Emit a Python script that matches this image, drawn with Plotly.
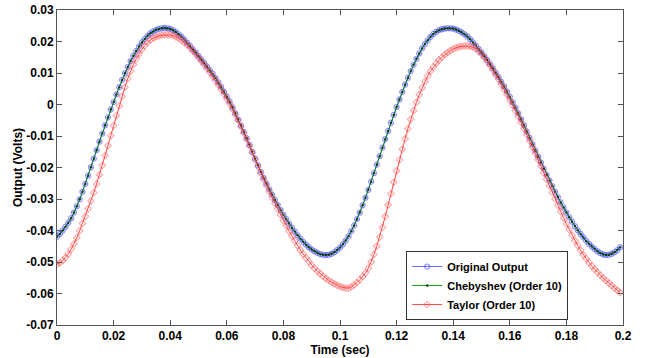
import plotly.graph_objects as go

# Sample times (s): 200 samples at 1 ms spacing
time_sec = [round(i * 0.001, 3) for i in range(200)]

original_output = [
    -0.0420, -0.0411, -0.0400, -0.0388, -0.0375, -0.0361, -0.0343, -0.0323, -0.0301, -0.0277,
    -0.0252, -0.0226, -0.0199, -0.0172, -0.0145, -0.0118, -0.0092, -0.0066, -0.0041, -0.0016,
    0.0008, 0.0032, 0.0055, 0.0078, 0.0099, 0.0119, 0.0138, 0.0155, 0.0170, 0.0184,
    0.0197, 0.0208, 0.0218, 0.0226, 0.0232, 0.0237, 0.0240, 0.0242, 0.0243, 0.0242,
    0.0240, 0.0236, 0.0230, 0.0223, 0.0215, 0.0206, 0.0196, 0.0186, 0.0175, 0.0165,
    0.0154, 0.0143, 0.0132, 0.0121, 0.0109, 0.0097, 0.0084, 0.0070, 0.0056, 0.0041,
    0.0025, 0.0009, -0.0009, -0.0028, -0.0048, -0.0067, -0.0087, -0.0107, -0.0128, -0.0150,
    -0.0172, -0.0193, -0.0214, -0.0233, -0.0251, -0.0269, -0.0286, -0.0303, -0.0319, -0.0335,
    -0.0350, -0.0364, -0.0378, -0.0391, -0.0403, -0.0415, -0.0426, -0.0436, -0.0445, -0.0453,
    -0.0460, -0.0466, -0.0471, -0.0475, -0.0477, -0.0478, -0.0477, -0.0474, -0.0469, -0.0462,
    -0.0454, -0.0444, -0.0432, -0.0418, -0.0402, -0.0384, -0.0364, -0.0343, -0.0320, -0.0296,
    -0.0271, -0.0245, -0.0218, -0.0191, -0.0164, -0.0137, -0.0110, -0.0084, -0.0058, -0.0033,
    -0.0008, 0.0016, 0.0040, 0.0063, 0.0085, 0.0106, 0.0126, 0.0145, 0.0162, 0.0178,
    0.0192, 0.0204, 0.0215, 0.0224, 0.0231, 0.0236, 0.0239, 0.0241, 0.0242, 0.0242,
    0.0241, 0.0238, 0.0234, 0.0229, 0.0223, 0.0216, 0.0207, 0.0197, 0.0187, 0.0176,
    0.0165, 0.0153, 0.0141, 0.0128, 0.0115, 0.0101, 0.0087, 0.0072, 0.0057, 0.0041,
    0.0025, 0.0008, -0.0010, -0.0028, -0.0047, -0.0066, -0.0086, -0.0106, -0.0126, -0.0146,
    -0.0166, -0.0185, -0.0204, -0.0223, -0.0241, -0.0259, -0.0277, -0.0294, -0.0311, -0.0327,
    -0.0343, -0.0358, -0.0372, -0.0386, -0.0399, -0.0411, -0.0422, -0.0433, -0.0442, -0.0451,
    -0.0459, -0.0466, -0.0472, -0.0476, -0.0478, -0.0477, -0.0474, -0.0469, -0.0462, -0.0453,
]

chebyshev_order10 = [
    -0.0420, -0.0411, -0.0400, -0.0388, -0.0375, -0.0361, -0.0343, -0.0323, -0.0301, -0.0277,
    -0.0252, -0.0226, -0.0199, -0.0172, -0.0145, -0.0118, -0.0092, -0.0066, -0.0041, -0.0016,
    0.0008, 0.0032, 0.0055, 0.0078, 0.0099, 0.0119, 0.0138, 0.0155, 0.0170, 0.0184,
    0.0197, 0.0208, 0.0218, 0.0226, 0.0232, 0.0237, 0.0240, 0.0242, 0.0243, 0.0242,
    0.0240, 0.0236, 0.0230, 0.0223, 0.0215, 0.0206, 0.0196, 0.0186, 0.0175, 0.0165,
    0.0154, 0.0143, 0.0132, 0.0121, 0.0109, 0.0097, 0.0084, 0.0070, 0.0056, 0.0041,
    0.0025, 0.0009, -0.0009, -0.0028, -0.0048, -0.0067, -0.0087, -0.0107, -0.0128, -0.0150,
    -0.0172, -0.0193, -0.0214, -0.0233, -0.0251, -0.0269, -0.0286, -0.0303, -0.0319, -0.0335,
    -0.0350, -0.0364, -0.0378, -0.0391, -0.0403, -0.0415, -0.0426, -0.0436, -0.0445, -0.0453,
    -0.0460, -0.0466, -0.0471, -0.0475, -0.0477, -0.0478, -0.0477, -0.0474, -0.0469, -0.0462,
    -0.0454, -0.0444, -0.0432, -0.0418, -0.0402, -0.0384, -0.0364, -0.0343, -0.0320, -0.0296,
    -0.0271, -0.0245, -0.0218, -0.0191, -0.0164, -0.0137, -0.0110, -0.0084, -0.0058, -0.0033,
    -0.0008, 0.0016, 0.0040, 0.0063, 0.0085, 0.0106, 0.0126, 0.0145, 0.0162, 0.0178,
    0.0192, 0.0204, 0.0215, 0.0224, 0.0231, 0.0236, 0.0239, 0.0241, 0.0242, 0.0242,
    0.0241, 0.0238, 0.0234, 0.0229, 0.0223, 0.0216, 0.0207, 0.0197, 0.0187, 0.0176,
    0.0165, 0.0153, 0.0141, 0.0128, 0.0115, 0.0101, 0.0087, 0.0072, 0.0057, 0.0041,
    0.0025, 0.0008, -0.0010, -0.0028, -0.0047, -0.0066, -0.0086, -0.0106, -0.0126, -0.0146,
    -0.0166, -0.0185, -0.0204, -0.0223, -0.0241, -0.0259, -0.0277, -0.0294, -0.0311, -0.0327,
    -0.0343, -0.0358, -0.0372, -0.0386, -0.0399, -0.0411, -0.0422, -0.0433, -0.0442, -0.0451,
    -0.0459, -0.0466, -0.0472, -0.0476, -0.0478, -0.0477, -0.0474, -0.0469, -0.0462, -0.0453,
]

taylor_order10 = [
    -0.0507, -0.0503, -0.0496, -0.0486, -0.0474, -0.0459, -0.0442, -0.0423, -0.0401, -0.0378,
    -0.0355, -0.0331, -0.0306, -0.0280, -0.0252, -0.0223, -0.0193, -0.0162, -0.0131, -0.0099,
    -0.0067, -0.0035, -0.0004, 0.0026, 0.0055, 0.0082, 0.0106, 0.0127, 0.0145, 0.0161,
    0.0175, 0.0187, 0.0197, 0.0205, 0.0211, 0.0215, 0.0218, 0.0220, 0.0221, 0.0222,
    0.0221, 0.0219, 0.0215, 0.0210, 0.0204, 0.0197, 0.0189, 0.0180, 0.0170, 0.0160,
    0.0149, 0.0138, 0.0126, 0.0114, 0.0102, 0.0089, 0.0076, 0.0062, 0.0048, 0.0033,
    0.0018, 0.0002, -0.0014, -0.0032, -0.0050, -0.0070, -0.0090, -0.0110, -0.0131, -0.0153,
    -0.0175, -0.0197, -0.0218, -0.0238, -0.0257, -0.0276, -0.0295, -0.0314, -0.0332, -0.0350,
    -0.0368, -0.0385, -0.0402, -0.0418, -0.0433, -0.0448, -0.0462, -0.0475, -0.0487, -0.0499,
    -0.0510, -0.0520, -0.0529, -0.0537, -0.0545, -0.0552, -0.0558, -0.0564, -0.0569, -0.0574,
    -0.0578, -0.0581, -0.0583, -0.0583, -0.0579, -0.0573, -0.0565, -0.0556, -0.0546, -0.0535,
    -0.0520, -0.0500, -0.0476, -0.0450, -0.0421, -0.0390, -0.0355, -0.0319, -0.0283, -0.0247,
    -0.0211, -0.0176, -0.0142, -0.0109, -0.0077, -0.0047, -0.0019, 0.0007, 0.0031, 0.0053,
    0.0073, 0.0091, 0.0106, 0.0119, 0.0131, 0.0141, 0.0150, 0.0158, 0.0165, 0.0171,
    0.0176, 0.0180, 0.0183, 0.0185, 0.0186, 0.0186, 0.0185, 0.0182, 0.0177, 0.0169,
    0.0160, 0.0149, 0.0137, 0.0124, 0.0110, 0.0095, 0.0080, 0.0064, 0.0048, 0.0032,
    0.0015, -0.0002, -0.0020, -0.0038, -0.0057, -0.0076, -0.0095, -0.0115, -0.0135, -0.0155,
    -0.0175, -0.0196, -0.0217, -0.0237, -0.0258, -0.0279, -0.0300, -0.0320, -0.0340, -0.0360,
    -0.0379, -0.0397, -0.0415, -0.0432, -0.0448, -0.0463, -0.0477, -0.0490, -0.0502, -0.0513,
    -0.0523, -0.0533, -0.0542, -0.0551, -0.0559, -0.0567, -0.0575, -0.0583, -0.0590, -0.0597,
]

x_tick_vals = [0, 0.02, 0.04, 0.06, 0.08, 0.1, 0.12, 0.14, 0.16, 0.18, 0.2]
x_tick_text = ["0", "0.02", "0.04", "0.06", "0.08", "0.1", "0.12", "0.14", "0.16", "0.18", "0.2"]
y_tick_vals = [-0.07, -0.06, -0.05, -0.04, -0.03, -0.02, -0.01, 0, 0.01, 0.02, 0.03]
y_tick_text = ["-0.07", "-0.06", "-0.05", "-0.04", "-0.03", "-0.02", "-0.01", "0", "0.01", "0.02", "0.03"]

FONT = "Liberation Sans, Arial, sans-serif"

fig = go.Figure()
fig.add_trace(go.Scatter(
    x=time_sec, y=original_output, name="Original Output", mode="lines+markers",
    line=dict(color="rgba(70,70,255,0.8)", width=1),
    marker=dict(symbol="circle-open", size=5, color="rgba(50,50,255,0.55)", line=dict(width=1.2)),
))
fig.add_trace(go.Scatter(
    x=time_sec, y=chebyshev_order10, name="Chebyshev (Order 10)", mode="lines+markers",
    line=dict(color="rgba(0,140,0,0.9)", width=1),
    marker=dict(symbol="circle", size=2.5, color="#0b3a0b"),
))
fig.add_trace(go.Scatter(
    x=time_sec, y=taylor_order10, name="Taylor (Order 10)", mode="lines+markers",
    line=dict(color="rgba(255,40,40,0.85)", width=1),
    marker=dict(symbol="diamond-open", size=5, color="rgba(255,70,70,0.45)", line=dict(width=1.2)),
))

axis_common = dict(
    showline=True, linecolor="#555555", linewidth=1, mirror="ticks",
    ticks="inside", ticklen=5, tickcolor="#555555",
    showgrid=False, zeroline=False,
    tickfont=dict(family=FONT, size=12, color="black", weight="bold"),
)

fig.update_xaxes(
    range=[0, 0.2], tickvals=x_tick_vals, ticktext=x_tick_text,
    title=dict(text="Time (sec)", font=dict(family=FONT, size=12, color="black", weight="bold"), standoff=0),
    automargin=False, **axis_common,
)
fig.update_yaxes(
    range=[-0.07, 0.03], tickvals=y_tick_vals, ticktext=y_tick_text,
    title=dict(text="Output (Volts)", font=dict(family=FONT, size=12, color="black", weight="bold"), standoff=1),
    automargin=False, **axis_common,
)

fig.update_layout(
    width=645, height=358,
    margin=dict(l=57, r=22, t=10, b=33),
    paper_bgcolor="white", plot_bgcolor="white",
    showlegend=True,
    legend=dict(
        x=0.617, y=0.235, xanchor="left", yanchor="top",
        bgcolor="white", bordercolor="#333333", borderwidth=1,
        font=dict(family=FONT, size=11, color="black", weight="bold"),
        itemwidth=30, tracegroupgap=0,
    ),
)

fig.write_html("out.html")
